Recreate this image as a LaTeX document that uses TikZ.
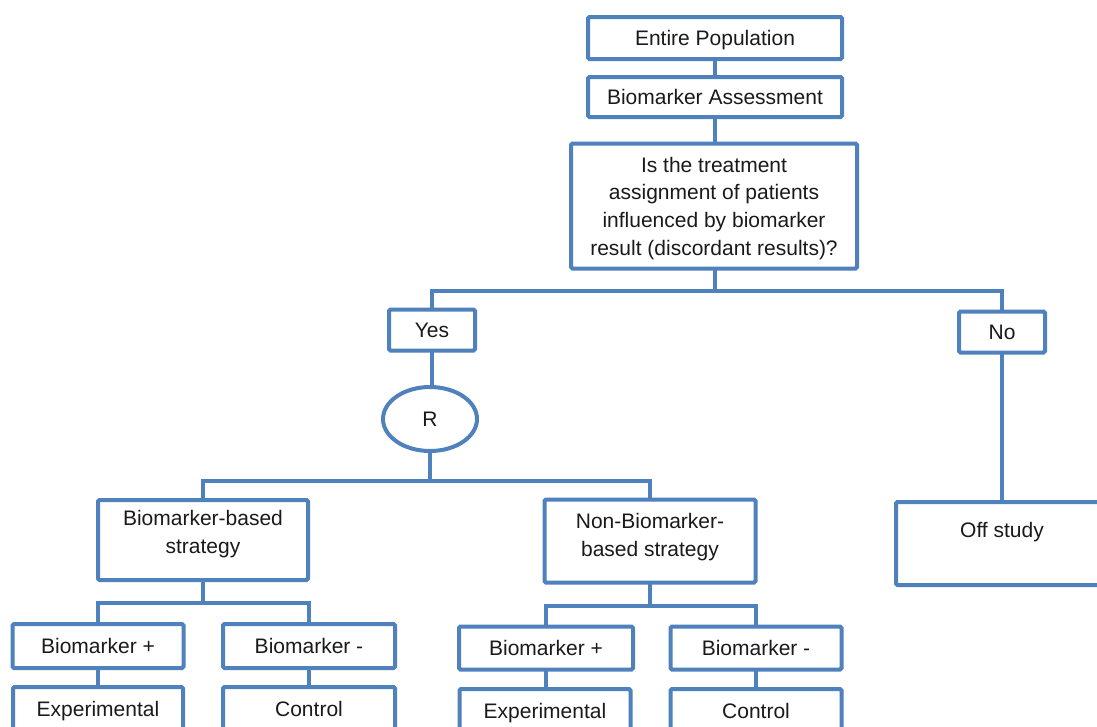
\documentclass[tikz,border=0pt]{standalone}
\usepackage{fontspec}
\setmainfont{Liberation Sans}
\usetikzlibrary{shapes.geometric}
\definecolor{lineblue}{HTML}{4F81BD}
\definecolor{txtc}{HTML}{1A1A1A}
\tikzset{
  box/.style={draw=lineblue, line width=4pt, rounded corners=1.5pt, fill=white, inner sep=0pt,
              text=txtc, align=center, text depth=0pt, font=\fontsize{21}{27.7}\selectfont},
  oval/.style={ellipse, draw=lineblue, line width=4pt, fill=white, inner sep=0pt,
              text=txtc, font=\fontsize{21}{27.7}\selectfont},
  txt/.style={text=txtc, align=center, inner sep=0pt, text depth=0pt, font=\fontsize{21}{27.7}\selectfont},
  conn/.style={draw=lineblue, line width=4pt}
}
\begin{document}
\begin{tikzpicture}[x=1pt,y=-1pt]
\useasboundingbox (0,0) rectangle (1097,726);
\clip (0,0) rectangle (1097,726);
\fill[white] (0,0) rectangle (1097,726);

% coordinates for horizontal bars
\coordinate (h1) at (715,291);
\coordinate (h2) at (430,481);
\coordinate (h3) at (205,603);
\coordinate (h4) at (650,606);

% connectors (drawn first, boxes cover ends)
\draw[conn] (715,38) -- (715,97);
\draw[conn] (715,97) -- (715,206);
\draw[conn] (715,206) -- (h1);
\draw[conn] (432,330) -- (432,291) -- (1002,291) -- (1002,332);
\draw[conn] (432,330) -- (432,419);
\draw[conn] (430,419) -- (h2);
\draw[conn] (203,540) -- (203,481) -- (650,481) -- (650,541);
\draw[conn] (1002,332) -- (1002,543);
\draw[conn] (203,540) -- (203,603);
\draw[conn] (98,646) -- (98,603) -- (309,603) -- (309,646);
\draw[conn] (98,646) -- (98,709);
\draw[conn] (309,646) -- (309,709);
\draw[conn] (650,541) -- (650,606);
\draw[conn] (546,648) -- (546,606) -- (756,606) -- (756,648);
\draw[conn] (546,648) -- (546,711);
\draw[conn] (756,648) -- (756,711);

% boxes
\node[box, minimum width=254, minimum height=42] (ep) at (715,38) {Entire Population};
\node[box, minimum width=254, minimum height=40] (ba) at (715,97) {Biomarker Assessment};
\node[box, minimum width=286, minimum height=125] (q) at (714,206)
  {Is the treatment\\assignment of patients\\influenced by biomarker\\result (discordant results)?};
\node[box, minimum width=86, minimum height=41] (yes) at (432,330) {Yes};
\node[box, minimum width=86, minimum height=41] (no) at (1002,332) {No};
\node[oval, minimum width=94, minimum height=64] (r) at (430,419) {R};

\node[box, minimum width=210, minimum height=80] (bbs) at (203,540) {};
\node[txt] (bbst) at (203,532) {Biomarker-based\\strategy};
\node[box, minimum width=211, minimum height=83] (nbbs) at (650,541) {};
\node[txt] (nbbst) at (650,535) {Non-Biomarker-\\based strategy};
\node[box, minimum width=212, minimum height=83] (off) at (1002,543.5) {};
\node[txt] (offt) at (1002,530) {Off study};

\node[box, minimum width=171, minimum height=44] (bpl) at (98,646) {Biomarker +};
\node[box, minimum width=172, minimum height=44] (bml) at (309,646) {Biomarker -};
\node[box, minimum width=170, minimum height=44] (exl) at (98,709) {Experimental};
\node[box, minimum width=172, minimum height=44] (ctl) at (309,709) {Control};

\node[box, minimum width=174, minimum height=43] (bpr) at (546,648) {Biomarker +};
\node[box, minimum width=171, minimum height=43] (bmr) at (756,648) {Biomarker -};
\node[box, minimum width=171, minimum height=44] (exr) at (545,711) {Experimental};
\node[box, minimum width=171, minimum height=44] (ctr) at (756,711) {Control};
\end{tikzpicture}
\end{document}
